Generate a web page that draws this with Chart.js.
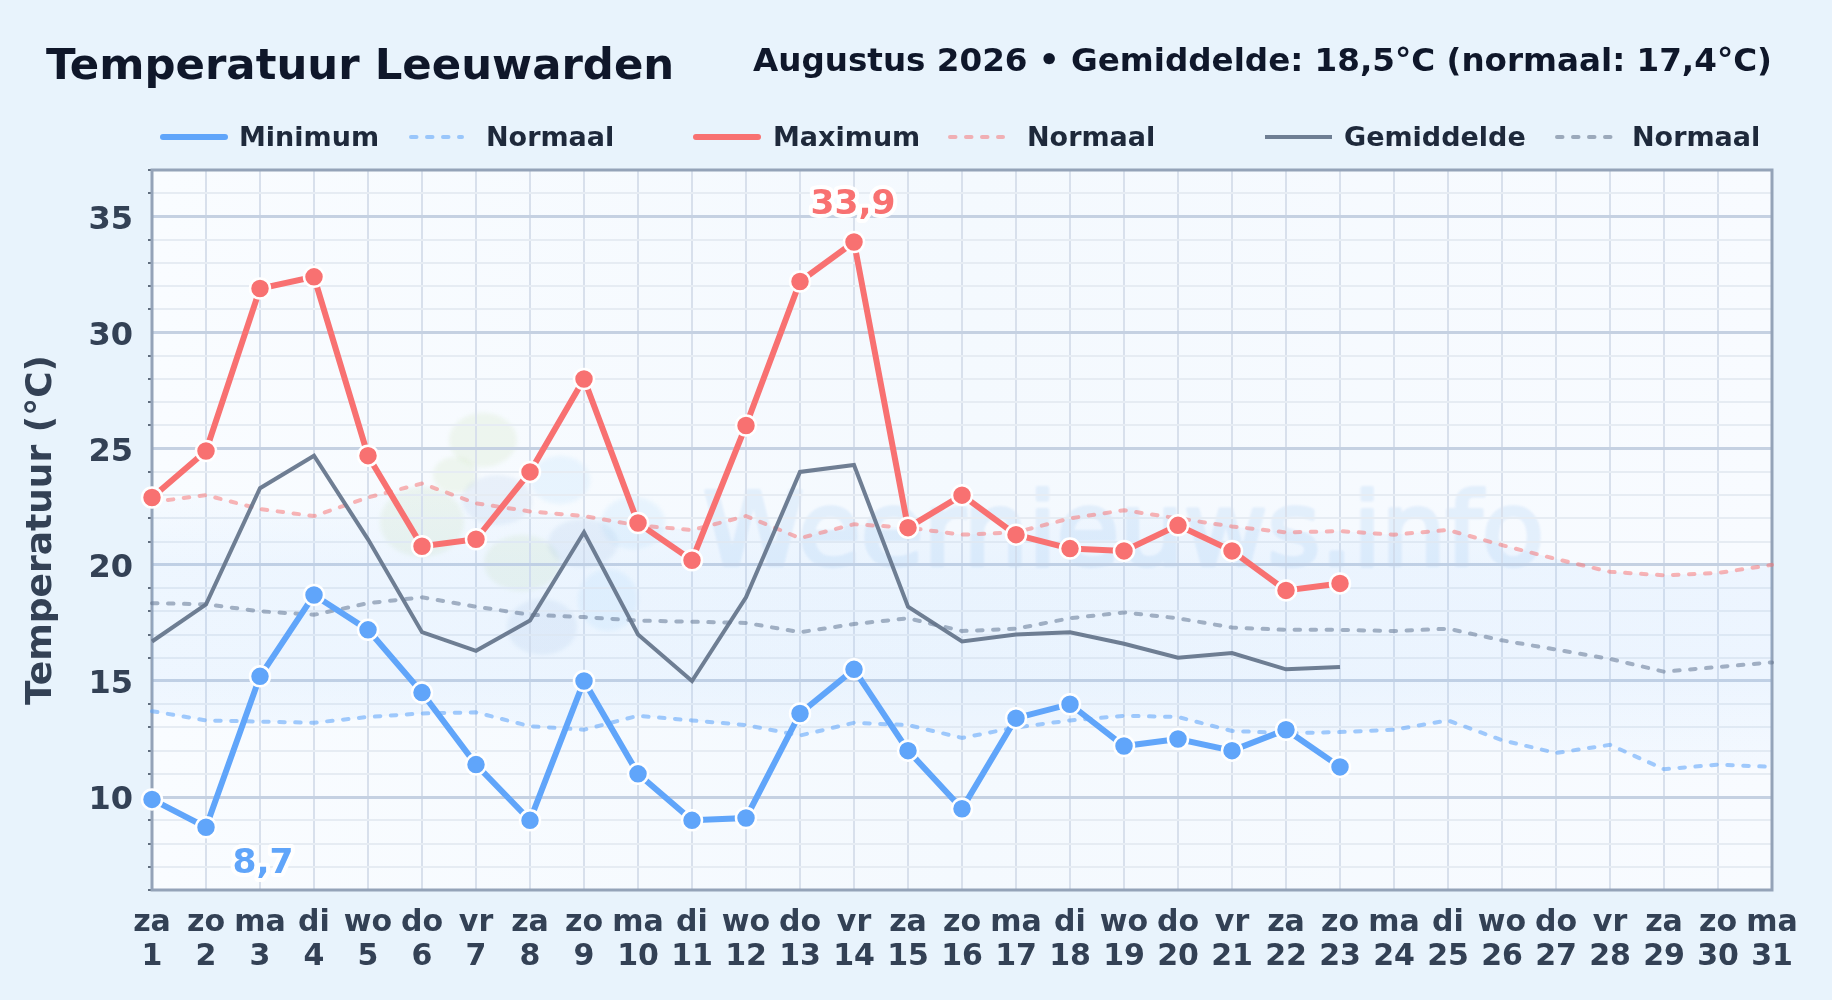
<!DOCTYPE html>
<html lang="nl">
<head>
<meta charset="utf-8">
<title>Temperatuur Leeuwarden</title>
<script src="https://cdn.jsdelivr.net/npm/chart.js@4/dist/chart.umd.min.js"></script>
<style>
  html, body { margin: 0; padding: 0; background: #e8f3fc; }
  body { width: 1832px; height: 1000px; position: relative; overflow: hidden; font-family: "DejaVu Sans", sans-serif; font-weight: bold; }
  #chart { position: absolute; left: 0; top: 0; }
  #title { position: absolute; left: 46px; top: 39px; font-size: 43.4px; color: #0f172a; white-space: nowrap; }
  #subtitle { position: absolute; right: 60px; top: 41px; font-size: 32.6px; color: #0f172a; white-space: nowrap; }
  .leg { position: absolute; top: 122px; height: 30px; line-height: 30px; font-size: 27px; color: #1e293b; white-space: nowrap; }
  .leg svg { position: absolute; left: 0; top: 0; overflow: visible; }
  .leg span { position: absolute; top: 0; }
</style>
</head>
<body>
<canvas id="chart" width="1832" height="1000"></canvas>
<div id="title">Temperatuur Leeuwarden</div>
<div id="subtitle">Augustus 2026 • Gemiddelde: 18,5°C (normaal: 17,4°C)</div>
<div id="legend"></div>
<script>
const weekdays = ['za','zo','ma','di','wo','do','vr','za','zo','ma','di','wo','do','vr','za','zo','ma','di','wo','do','vr','za','zo','ma','di','wo','do','vr','za','zo','ma'];
const dayNumbers = ['1','2','3','4','5','6','7','8','9','10','11','12','13','14','15','16','17','18','19','20','21','22','23','24','25','26','27','28','29','30','31'];

const minimum = [9.9, 8.7, 15.2, 18.7, 17.2, 14.5, 11.4, 9.0, 15.0, 11.0, 9.0, 9.1, 13.6, 15.5, 12.0, 9.5, 13.4, 14.0, 12.2, 12.5, 12.0, 12.9, 11.3];
const maximum = [22.9, 24.9, 31.9, 32.4, 24.7, 20.8, 21.1, 24.0, 28.0, 21.8, 20.2, 26.0, 32.2, 33.9, 21.6, 23.0, 21.3, 20.7, 20.6, 21.7, 20.6, 18.9, 19.2];
const gemiddelde = [16.7, 18.3, 23.3, 24.7, 21.1, 17.1, 16.3, 17.6, 21.4, 17.0, 15.0, 18.6, 24.0, 24.3, 18.2, 16.7, 17.0, 17.1, 16.6, 16.0, 16.2, 15.5, 15.6];

const normaalMin = [13.7, 13.3, 13.25, 13.2, 13.45, 13.6, 13.65, 13.05, 12.9, 13.5, 13.3, 13.1, 12.65, 13.2, 13.1, 12.55, 13.0, 13.3, 13.5, 13.45, 12.85, 12.75, 12.8, 12.9, 13.3, 12.45, 11.9, 12.25, 11.2, 11.4, 11.3];
const normaalMax = [22.7, 23.0, 22.4, 22.1, 22.9, 23.5, 22.65, 22.3, 22.1, 21.7, 21.5, 22.1, 21.15, 21.75, 21.6, 21.3, 21.4, 22.0, 22.35, 22.0, 21.65, 21.4, 21.45, 21.3, 21.5, 20.85, 20.25, 19.7, 19.55, 19.65, 20.0];
const normaalGem = [18.35, 18.3, 18.0, 17.85, 18.35, 18.6, 18.2, 17.85, 17.75, 17.6, 17.55, 17.5, 17.1, 17.45, 17.7, 17.15, 17.25, 17.7, 17.95, 17.7, 17.3, 17.2, 17.2, 17.15, 17.25, 16.75, 16.35, 15.95, 15.4, 15.6, 15.8];

const blue = '#60a5fa', red = '#f87171', slate = 'rgba(100,116,139,0.93)';
const blueNorm = 'rgba(96,165,250,0.58)', redNorm = 'rgba(248,113,113,0.52)', slateNorm = 'rgba(100,116,139,0.58)';

const labels = weekdays.map((d, i) => [d, dayNumbers[i]]);

// logo behind the grid: centre x, centre y, radius x, radius y, colour
const green = 'rgba(190,222,160,0.17)', darkBlue = 'rgba(120,165,215,0.12)', lightBlue = 'rgba(150,205,250,0.15)';
const logoBlobs = [
    [483, 440, 34, 27, green], [455, 475, 22, 18, green],
    [422, 522, 42, 35, green], [522, 563, 38, 28, green],
    [497, 500, 35, 25, darkBlue], [583, 543, 35, 24, darkBlue], [542, 627, 35, 28, darkBlue],
    [560, 480, 30, 24, lightBlue], [633, 523, 32, 26, lightBlue], [608, 600, 30, 31, lightBlue]
];

const backdrop = {
    id: 'backdrop',
    beforeDraw(chart) {
        const { ctx, chartArea: a } = chart;
        ctx.save();
        const bg = ctx.createLinearGradient(a.left, 0, a.right, 0);
        bg.addColorStop(0, '#f9fcff');
        bg.addColorStop(0.5, '#f4f9fe');
        bg.addColorStop(1, '#f8fbff');
        ctx.fillStyle = bg;
        ctx.fillRect(a.left, a.top, a.width, a.height);

        ctx.beginPath();
        ctx.rect(a.left, a.top, a.width, a.height);
        ctx.clip();
        ctx.filter = 'blur(2px)';
        logoBlobs.forEach(([x, y, rx, ry, c]) => {
            ctx.fillStyle = c;
            ctx.beginPath();
            ctx.ellipse(x, y, rx, ry, 0, 0, Math.PI * 2);
            ctx.fill();
        });

        // watermark goes through a second canvas so stroke and fill don't add up
        const mark = document.createElement('canvas');
        mark.width = 1000;
        mark.height = 160;
        const m = mark.getContext('2d');
        m.fillStyle = m.strokeStyle = 'rgb(150,195,240)';
        m.lineWidth = 4;
        m.lineJoin = 'round';
        m.font = '102px "DejaVu Sans"';
        m.textBaseline = 'alphabetic';
        m.fillText('Weernieuws.info', 20, 120);
        m.strokeText('Weernieuws.info', 20, 120);
        ctx.filter = 'blur(1px)';
        ctx.globalAlpha = 0.2;
        ctx.drawImage(mark, 683, 445);
        ctx.restore();
    }
};

// frame plus the two labels with a white halo
const frame = {
    id: 'frame',
    beforeDatasetsDraw(chart) {
        const { ctx, chartArea: a } = chart;
        ctx.save();
        ctx.strokeStyle = '#94a3b8';
        ctx.lineWidth = 3;
        ctx.strokeRect(a.left, a.top, a.width, a.height);
        ctx.restore();
    },
    afterDraw(chart) {
        const { ctx, scales } = chart;
        const label = (text, color, x, y) => {
            ctx.font = 'bold 34.5px "DejaVu Sans"';
            ctx.textAlign = 'center';
            ctx.textBaseline = 'middle';
            ctx.lineJoin = 'round';
            ctx.lineWidth = 8;
            ctx.strokeStyle = 'rgba(255,255,255,0.95)';
            ctx.strokeText(text, x, y);
            ctx.fillStyle = color;
            ctx.fillText(text, x, y);
        };
        ctx.save();
        const hi = maximum.indexOf(Math.max(...maximum));
        const lo = minimum.indexOf(Math.min(...minimum));
        label(String(maximum[hi]).replace('.', ','), red, scales.x.getPixelForValue(hi) - 1, scales.y.getPixelForValue(maximum[hi]) - 37);
        label(String(minimum[lo]).replace('.', ','), blue, scales.x.getPixelForValue(lo) + 57, scales.y.getPixelForValue(minimum[lo]) + 37);
        ctx.restore();
    }
};

const ctx = document.getElementById('chart').getContext('2d');
// the band between the normals fades out towards both edges
const bandFill = (context) => {
    const { chartArea: a, scales } = context.chart;
    if (!a) return 'rgba(147,197,253,0.10)';
    const g = context.chart.ctx.createLinearGradient(0, scales.y.getPixelForValue(24), 0, scales.y.getPixelForValue(12));
    g.addColorStop(0, 'rgba(147,197,253,0.02)');
    g.addColorStop(0.35, 'rgba(147,197,253,0.11)');
    g.addColorStop(0.75, 'rgba(147,197,253,0.11)');
    g.addColorStop(1, 'rgba(147,197,253,0.05)');
    return g;
};

const chart = new Chart(ctx, {
    type: 'line',
    data: {
        labels: labels,
        datasets: [
            { label: 'Minimum', data: minimum, borderColor: blue, backgroundColor: blue, borderWidth: 6, pointRadius: 10, pointBorderWidth: 2.5, pointBorderColor: '#fff', pointBackgroundColor: blue, clip: false, order: 1 },
            { label: 'Maximum', data: maximum, borderColor: red, backgroundColor: red, borderWidth: 6, pointRadius: 10, pointBorderWidth: 2.5, pointBorderColor: '#fff', pointBackgroundColor: red, clip: false, order: 2 },
            { label: 'Gemiddelde', data: gemiddelde, borderColor: slate, borderWidth: 4, pointRadius: 0, order: 3 },
            { label: 'Normaal', data: normaalMin, borderColor: blueNorm, borderWidth: 4, borderDash: [5.5, 10.5], borderCapStyle: 'round', pointRadius: 0, order: 4 },
            { label: 'Normaal', data: normaalMax, borderColor: redNorm, borderWidth: 4, borderDash: [5.5, 10.5], borderCapStyle: 'round', pointRadius: 0, fill: { target: 3 }, backgroundColor: bandFill, order: 5 },
            { label: 'Normaal', data: normaalGem, borderColor: slateNorm, borderWidth: 4, borderDash: [5.5, 10.5], borderCapStyle: 'round', pointRadius: 0, order: 6 }
        ]
    },
    options: {
        responsive: false,
        animation: false,
        events: [],
        devicePixelRatio: 1,
        layout: { padding: { top: 170, right: 60, left: 0, bottom: 0 } },
        plugins: { legend: { display: false }, tooltip: { enabled: false } },
        scales: {
            x: {
                offset: false,
                afterFit(s) { s.height = 110; },
                border: { display: false },
                grid: { color: '#d8e0ec', lineWidth: 2, drawTicks: false },
                ticks: { autoSkip: false, maxRotation: 0, color: '#334155', padding: 16, font: { family: '"DejaVu Sans"', weight: 'bold', size: 30, lineHeight: 1.14 } }
            },
            y: {
                min: 6,
                max: 37,
                afterFit(s) { s.width = 152; },
                border: { display: false },
                title: { display: true, text: 'Temperatuur (°C)', color: '#334155', padding: { top: 20, bottom: 0 }, font: { family: '"DejaVu Sans"', weight: 'bold', size: 36 } },
                grid: {
                    color: (c) => c.tick.value % 5 === 0 ? '#c5d1e2' : '#e6ecf3',
                    lineWidth: (c) => c.tick.value % 5 === 0 ? 3 : 2,
                    tickColor: (c) => c.tick.value % 5 === 0 ? 'rgba(0,0,0,0)' : '#334155',
                    tickLength: 4,
                    tickWidth: 1.5
                },
                ticks: {
                    stepSize: 1,
                    autoSkip: false,
                    color: '#334155',
                    padding: 15,
                    labelOffset: 4,
                    font: { family: '"DejaVu Sans"', weight: 'bold', size: 32 },
                    callback: (v) => v % 5 === 0 ? String(v) : ''
                }
            }
        }
    },
    plugins: [backdrop, frame]
});

// legend built from the dataset styles, three groups like the original
const legendItems = [
    { ds: 0, x: 160, w: 68, text: 239 },
    { ds: 3, x: 408, w: 57, text: 486 },
    { ds: 1, x: 693, w: 68, text: 773 },
    { ds: 4, x: 947, w: 59, text: 1027 },
    { ds: 2, x: 1265, w: 67, text: 1344 },
    { ds: 5, x: 1554, w: 66, text: 1632 }
];
const legend = document.getElementById('legend');
legendItems.forEach((it) => {
    const d = chart.data.datasets[it.ds];
    const el = document.createElement('div');
    el.className = 'leg';
    el.style.left = it.x + 'px';
    const thick = d.borderWidth > 4;
    const style = d.borderDash ? 'stroke-dasharray="5.5 10.5" stroke-linecap="round"' : (thick ? 'stroke-linecap="round"' : '');
    const inset = d.borderDash || thick ? 3 : 0;
    el.innerHTML = `<svg width="${it.w}" height="30"><line x1="${inset}" y1="15" x2="${it.w - inset}" y2="15" stroke="${d.borderColor}" stroke-width="${d.borderWidth}" ${style}/></svg><span style="left:${it.text - it.x}px">${d.label}</span>`;
    legend.appendChild(el);
});
</script>
</body>
</html>
